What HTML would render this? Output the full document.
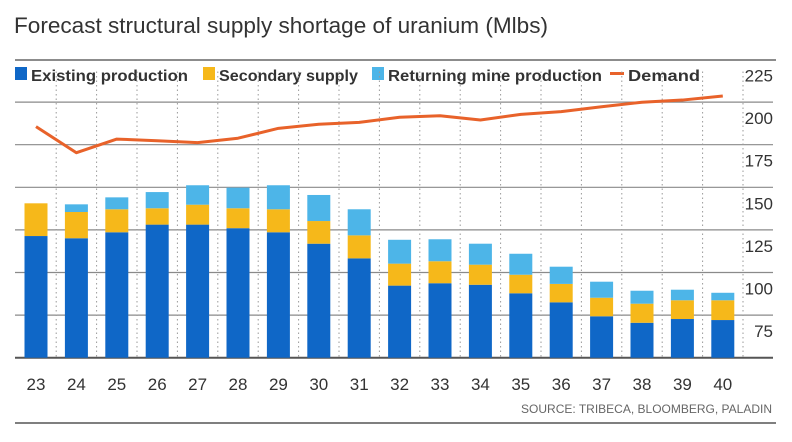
<!DOCTYPE html>
<html><head><meta charset="utf-8"><style>
body{margin:0;background:#fff;}
svg{display:block;font-family:"Liberation Sans",sans-serif;}
</style></head><body>
<svg id="c" width="792" height="442" viewBox="0 0 792 442">
<text x="14" y="33" font-size="22" fill="#333" textLength="534" lengthAdjust="spacingAndGlyphs">Forecast structural supply shortage of uranium (Mlbs)</text>
<line x1="15" y1="60" x2="776" y2="60" stroke="#666" stroke-width="1.5"/>
<g font-size="16" font-weight="bold" fill="#333">
<g><rect x="15" y="67" width="12" height="13" fill="#0f67c7"/><text x="31" y="81" textLength="157" lengthAdjust="spacingAndGlyphs">Existing production</text></g>
<g><rect x="203" y="67" width="12" height="13" fill="#f6b81a"/><text x="219" y="81" textLength="139" lengthAdjust="spacingAndGlyphs">Secondary supply</text></g>
<g><rect x="372" y="67" width="12" height="13" fill="#4db5e8"/><text x="388" y="81" textLength="214" lengthAdjust="spacingAndGlyphs">Returning mine production</text></g>
<g><rect x="610" y="72" width="14" height="3" fill="#e8622a"/><text x="628" y="81" textLength="72" lengthAdjust="spacingAndGlyphs">Demand</text></g>
</g>
<g id="grid"></g>
<g id="bars"></g>
<g id="line"></g>
<g id="labels"></g>
<text x="772" y="413" text-anchor="end" font-size="12" fill="#666">SOURCE: TRIBECA, BLOOMBERG, PALADIN</text>
<line x1="15" y1="423" x2="776" y2="423" stroke="#555" stroke-width="1.5"/>
</svg>
<script>
const years=["23","24","25","26","27","28","29","30","31","32","33","34","35","36","37","38","39","40"];
const existing=[121.4,120.1,123.6,128.1,128.1,126,123.6,116.9,108.3,92.3,93.7,92.8,87.8,82.5,74.3,70.5,72.7,72.1];
const secondary=[19.2,15.4,13.5,9.6,11.7,11.7,13.5,13.3,13.5,12.9,12.9,11.8,10.9,10.8,10.9,11.2,11,11.6];
const returning=[0,4.5,7,9.5,11.4,12.1,14.1,15.3,15.3,14,12.9,12.3,12.3,10.1,9.4,7.6,6.2,4.4];
const demand=[185.6,170.3,178.3,177.3,176.2,178.8,184.6,187,188.1,191.1,192,189.5,192.8,194.4,197.3,199.9,201.2,203.6];
const yTicks=[75,100,125,150,175,200,225];
const gridVals=[50,75,100,125,150,175,200];
const NS="http://www.w3.org/2000/svg";
const y0=357.7,pxPer=1.704,base=50;
const yS=v=>y0-(v-base)*pxPer;
const xS=i=>36+i*40.4;
const bw=23;
function mk(t,a,p){const e=document.createElementNS(NS,t);for(const k in a)e.setAttribute(k,a[k]);p.appendChild(e);return e;}
const G=document.getElementById('grid'),B=document.getElementById('bars'),L=document.getElementById('line'),T=document.getElementById('labels');
gridVals.forEach((v,i)=>{
  const l=mk('line',{x1:15,x2:773,y1:yS(v),y2:yS(v),stroke:i==0?'#555':'#8a8a8a','stroke-width':i==0?2:1.2},G);
  
  
});
for(let i=0;i<years.length;i++){
  const xm=xS(i)+20.2;
  const d=mk('line',{x1:xm,x2:xm,y1:yS(225)+12,y2:y0,stroke:'#999','stroke-width':1,'stroke-dasharray':'1.5,3'},G);
  
  
}
yTicks.forEach(v=>{
  const t=mk('text',{x:773,y:yS(v)+22,'text-anchor':'end','font-size':17,fill:'#333'},T);
  t.textContent=v;
  
  
});
years.forEach((yr,i)=>{
  const x=xS(i)-bw/2;
  const e=existing[i],s=secondary[i],r=returning[i];
  const segs=[[base,e,'#0f67c7','existing'],[e,e+s,'#f6b81a','secondary'],[e+s,e+s+r,'#4db5e8','returning']];
  segs.forEach(sg=>{
    if(sg[1]<=sg[0])return;
    const rc=mk('rect',{x:x,y:yS(sg[1]),width:bw,height:yS(sg[0])-yS(sg[1]),fill:sg[2]},B);
    
    
  });
  const t=mk('text',{x:xS(i),y:390,'text-anchor':'middle','font-size':17,fill:'#333'},T);
  t.textContent=yr;
  
  
});
const pts=demand.map((v,i)=>xS(i)+','+yS(v)).join(' ');
const pl=mk('polyline',{points:pts,fill:'none',stroke:'#e8622a','stroke-width':3,'stroke-linejoin':'round'},L);


</script>
</body></html>
